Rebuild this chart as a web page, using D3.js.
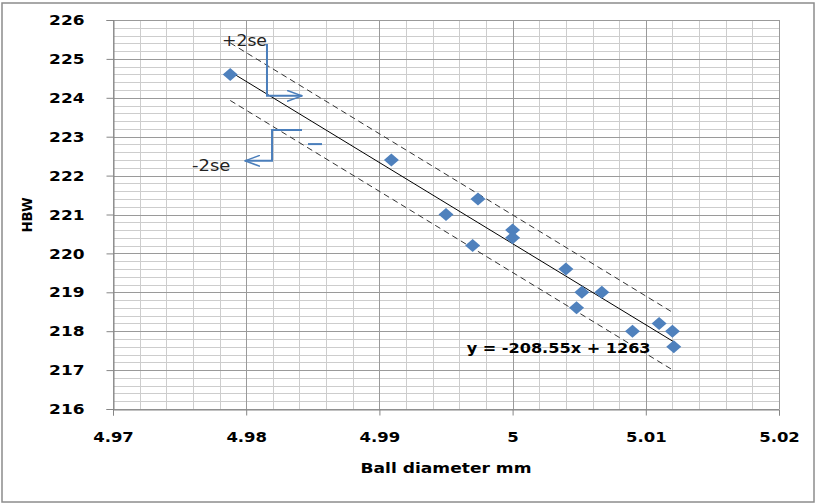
<!DOCTYPE html>
<meta charset="utf-8">
<style>
body { margin: 0; background: #fff; }
text { font-family: "DejaVu Sans", sans-serif; }
</style>
<svg id="chart" width="821" height="504"></svg>
<script src="https://cdn.jsdelivr.net/npm/d3@7/dist/d3.min.js"></script>
<script>

// measured points: ball diameter (mm) vs hardness (HBW)
var diameter = [4.9788, 4.9909, 4.9950, 4.9974, 4.9970, 5.0000, 5.0000, 5.0040,
                5.0052, 5.0067, 5.0048, 5.0090, 5.0110, 5.0120, 5.0121];
var hardness = [224.6, 222.4, 221.0, 221.4, 220.2, 220.6, 220.4, 219.6,
                219.0, 219.0, 218.6, 218.0, 218.2, 218.0, 217.6];

var xTicks = [4.97, 4.98, 4.99, 5, 5.01, 5.02];
var yTicks = [216, 217, 218, 219, 220, 221, 222, 223, 224, 225, 226];

// trendline from the chart label, and the +/-2se band
var slope = -208.55;
var intercept = 1263;
var twoSe = 0.74;

var svg = d3.select("#chart");
var width = 821, height = 504;
var margin = {left: 113, right: 42, top: 20, bottom: 95};

var x = d3.scaleLinear().domain([4.97, 5.02]).range([margin.left, width - margin.right]);
var y = d3.scaleLinear().domain([216, 226]).range([height - margin.bottom, margin.top]);

var blue = "#4a7ebb";

// the original text is drawn wide; stretch glyphs horizontally
function stretch(sel, k) {
  sel.each(function(){
    var w = this.getComputedTextLength();
    d3.select(this).attr("textLength", w * k).attr("lengthAdjust", "spacingAndGlyphs");
  });
}

// outer chart frame
svg.append("rect")
  .attr("x", 2).attr("y", 3).attr("width", 812).attr("height", 499)
  .attr("fill", "#fff").attr("stroke", "#8c8c8c").attr("stroke-width", 1.5);

// minor grid
var g = svg.append("g");
g.selectAll(".vminor").data(d3.range(0, 26).map(function(i){ return 4.97 + i * 0.002; }))
  .join("line")
  .attr("x1", function(d){ return Math.round(x(d)) + 0.5; })
  .attr("x2", function(d){ return Math.round(x(d)) + 0.5; })
  .attr("y1", y(216)).attr("y2", y(226))
  .attr("stroke", "#cdcdcd");
g.selectAll(".hminor").data(d3.range(0, 51).map(function(i){ return 216 + i * 0.2; }))
  .join("line")
  .attr("y1", function(d){ return Math.round(y(d)) + 0.5; })
  .attr("y2", function(d){ return Math.round(y(d)) + 0.5; })
  .attr("x1", x(4.97)).attr("x2", x(5.02))
  .attr("stroke", "#cdcdcd");

// major grid
g.selectAll(".vmajor").data(xTicks)
  .join("line")
  .attr("x1", function(d){ return Math.round(x(d)) + 0.5; })
  .attr("x2", function(d){ return Math.round(x(d)) + 0.5; })
  .attr("y1", y(216)).attr("y2", y(226))
  .attr("stroke", "#9a9a9a");
g.selectAll(".hmajor").data(yTicks)
  .join("line")
  .attr("y1", function(d){ return Math.round(y(d)) + 0.5; })
  .attr("y2", function(d){ return Math.round(y(d)) + 0.5; })
  .attr("x1", x(4.97)).attr("x2", x(5.02))
  .attr("stroke", "#9a9a9a");

// axes
var xAxis = svg.append("g")
  .attr("transform", "translate(0," + (Math.round(y(216)) + 0.5) + ")")
  .call(d3.axisBottom(x).tickValues(xTicks).tickFormat(d3.format("")).tickSize(6).tickPadding(17));
var yAxis = svg.append("g")
  .attr("transform", "translate(" + (Math.round(x(4.97)) + 0.5) + ",0)")
  .call(d3.axisLeft(y).tickValues(yTicks).tickFormat(d3.format("d")).tickSize(7).tickPadding(22));

[xAxis, yAxis].forEach(function(a){
  a.select(".domain").attr("stroke", "#868686");
  a.selectAll(".tick line").attr("stroke", "#868686");
  a.selectAll(".tick text")
    .attr("fill", "#000")
    .style("font-family", "'DejaVu Sans', sans-serif")
    .style("font-weight", "bold");
});
xAxis.selectAll(".tick text").style("font-size", "13.5px").call(stretch, 1.22);
yAxis.selectAll(".tick text").style("font-size", "14.5px").call(stretch, 1.17);

// trendline and +/-2se dashed lines
var x0 = d3.min(diameter), x1 = d3.max(diameter);
function fit(v){ return slope * v + intercept; }

svg.append("line")
  .attr("x1", x(x0)).attr("y1", y(fit(x0)))
  .attr("x2", x(x1)).attr("y2", y(fit(x1)))
  .attr("stroke", "#000").attr("stroke-width", 1);

[twoSe, -twoSe].forEach(function(off){
  svg.append("line")
    .attr("x1", x(x0)).attr("y1", y(fit(x0) + off))
    .attr("x2", x(x1)).attr("y2", y(fit(x1) + off))
    .attr("stroke", "#333").attr("stroke-width", 1)
    .attr("stroke-dasharray", "6,4");
});

// points
var pts = diameter.map(function(d, i){ return [d, hardness[i]]; });
svg.selectAll(".pt").data(pts)
  .join("path")
  .attr("d", "M-7.5,0L0,-6.5L7.5,0L0,6.5Z")
  .attr("transform", function(d){ return "translate(" + x(d[0]) + "," + y(d[1]) + ")"; })
  .attr("fill", "#4f81bd");

// hand-drawn annotations (data units)
var arrowUp = [[4.98156, 225.38], [4.98156, 224.05], [4.98419, 224.05]];
var arrowDown = [[4.98419, 223.17], [4.98194, 223.17], [4.98194, 222.38], [4.97991, 222.38]];
var stray = [[4.98464, 222.81], [4.98569, 222.81]];

var line = d3.line().x(function(d){ return x(d[0]); }).y(function(d){ return y(d[1]); });

svg.append("defs").append("marker")
  .attr("id", "arr").attr("viewBox", "0 0 16 12")
  .attr("refX", 15).attr("refY", 6)
  .attr("markerWidth", 16).attr("markerHeight", 12)
  .attr("markerUnits", "userSpaceOnUse")
  .attr("orient", "auto")
  .append("path").attr("d", "M0,0.5L15,6L0,11.5")
  .attr("fill", "none").attr("stroke", blue).attr("stroke-width", 1.5);

[arrowUp, arrowDown].forEach(function(p){
  svg.append("path").attr("d", line(p))
    .attr("fill", "none").attr("stroke", blue).attr("stroke-width", 2)
    .attr("marker-end", "url(#arr)");
});
svg.append("path").attr("d", line(stray))
  .attr("fill", "none").attr("stroke", blue).attr("stroke-width", 2);

svg.append("text")
  .attr("x", x(4.97818)).attr("y", y(225.33))
  .style("font-size", "15px").attr("fill", "#222")
  .text("+2se").call(stretch, 1.15);
svg.append("text")
  .attr("x", x(4.97593)).attr("y", y(222.12))
  .style("font-size", "15px").attr("fill", "#222")
  .text("-2se").call(stretch, 1.2);

// equation
svg.append("text")
  .attr("x", x(4.99655)).attr("y", y(217.45))
  .style("font-size", "14px").style("font-weight", "bold").attr("fill", "#000")
  .text("y = -208.55x + 1263").call(stretch, 1.15);

// axis titles
svg.append("text")
  .attr("x", (x(4.97) + x(5.02)) / 2).attr("y", 473)
  .attr("text-anchor", "middle")
  .style("font-size", "14px").style("font-weight", "bold")
  .text("Ball diameter mm").call(stretch, 1.22);
svg.append("text")
  .attr("transform", "translate(32,215) rotate(-90)")
  .attr("text-anchor", "middle")
  .style("font-size", "14px").style("font-weight", "bold")
  .text("HBW").call(stretch, 0.95);

</script>
